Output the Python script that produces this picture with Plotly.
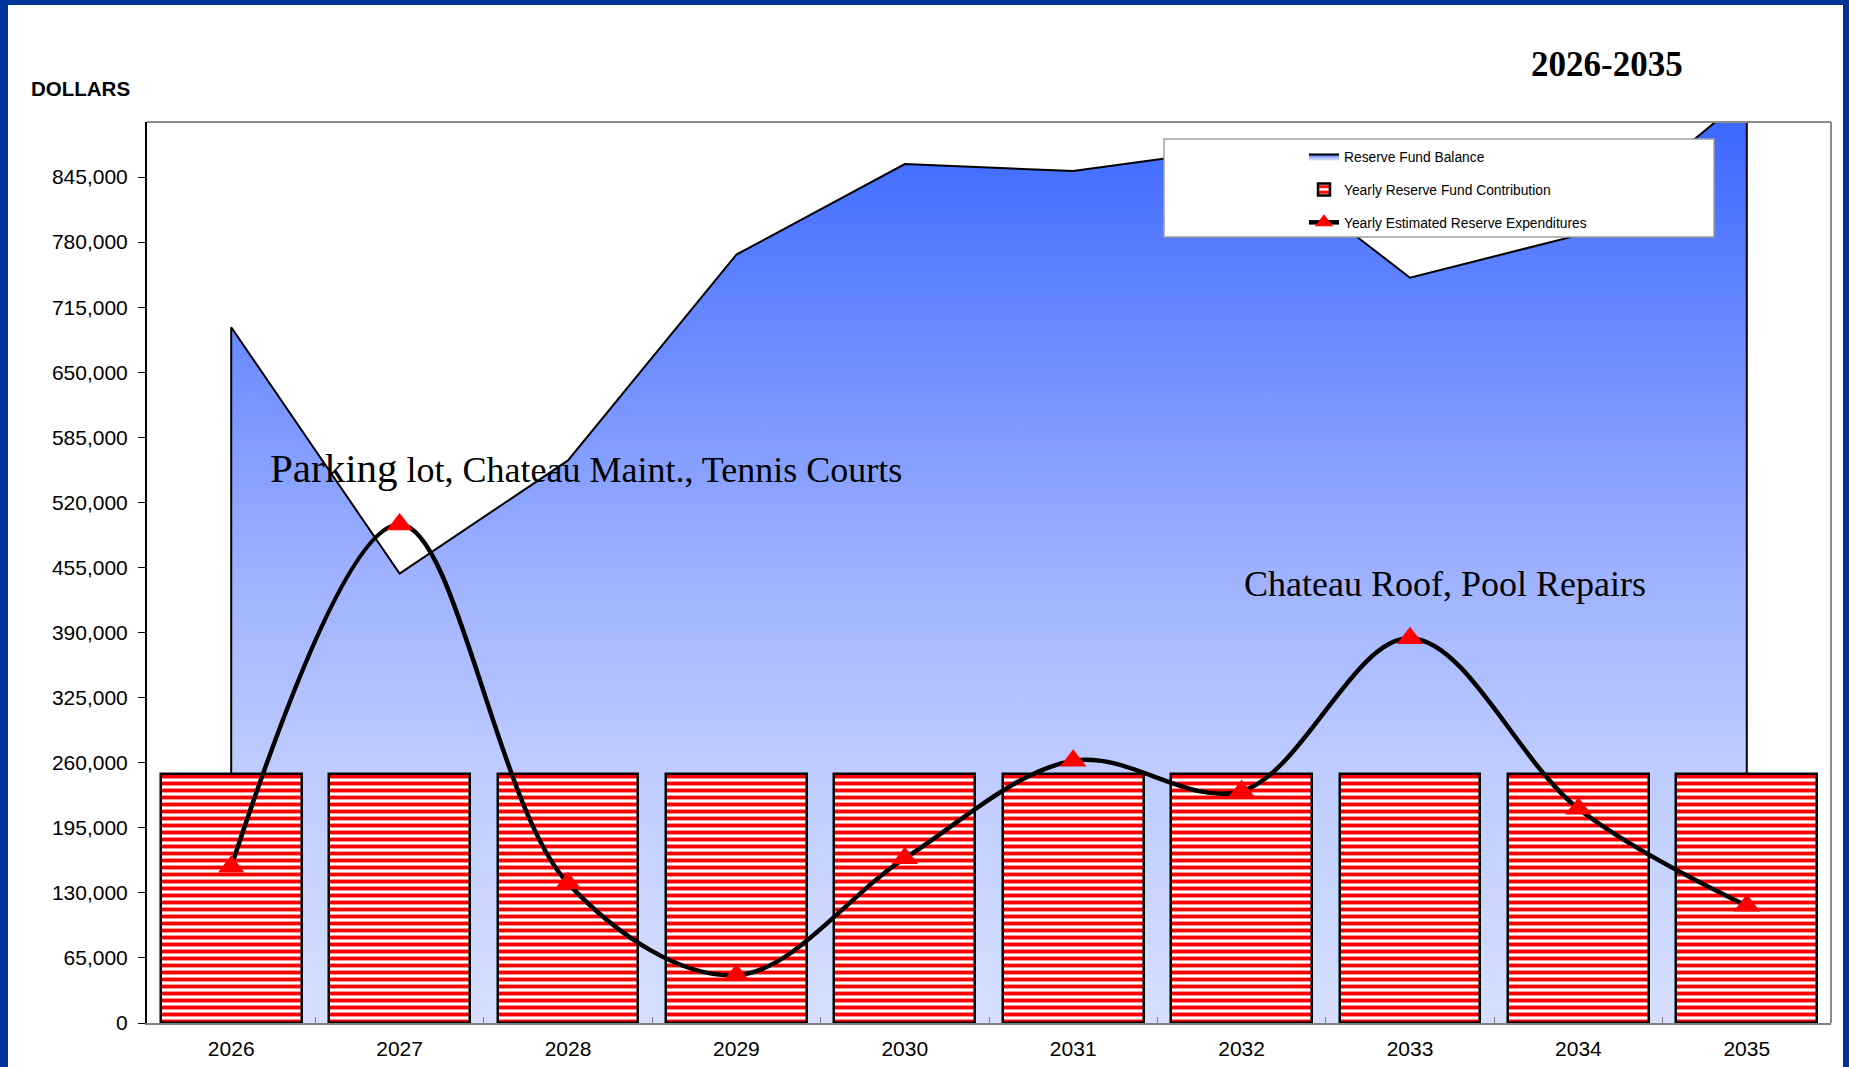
import plotly.graph_objects as go

# ---------------- data ----------------
years = [2026, 2027, 2028, 2029, 2030, 2031, 2032, 2033, 2034, 2035]
reserve_balance = [695000, 449000, 562000, 767500, 858000, 851000, 874000, 744500, 787000, 926000]
yearly_contribution = [248500, 248500, 248500, 248500, 248500, 248500, 248500, 248500, 248500, 248500]
yearly_expenditures = [156000, 498000, 139500, 47800, 164500, 262000, 231500, 384300, 214000, 117000]
y_tick_values = [0, 65000, 130000, 195000, 260000, 325000, 390000, 455000,
                 520000, 585000, 650000, 715000, 780000, 845000]
y_tick_labels = ["0", "65,000", "130,000", "195,000", "260,000", "325,000", "390,000",
                 "455,000", "520,000", "585,000", "650,000", "715,000", "780,000", "845,000"]
x_tick_labels = [str(y) for y in years]
y_max = 900000

# ---------------- geometry helpers (pixel -> paper) ----------------
FW, FH = 1849, 1067
L, R, T, B = 147, 1831, 122, 1023


def px(x):
    return (x - L) / (R - L)


def py(y):
    return (B - y) / (B - T)


fig = go.Figure()

# Reserve fund balance: area with vertical edges at both ends
area_x = [years[0]] + years + [years[-1]]
area_y = [0] + reserve_balance + [0]
fig.add_trace(go.Scatter(
    x=area_x, y=area_y, name="Reserve Fund Balance",
    mode="lines", line=dict(color="black", width=2),
    fill="toself", fillcolor="#8FA5FF",
    fillgradient=dict(
        type="vertical", start=0, stop=y_max,
        colorscale=[[0.0, "#D7E0FF"], [0.3, "#BCCAFF"], [0.5, "#9EB1FF"],
                    [0.75, "#6C8CFF"], [1.0, "#3D68FF"]],
    ),
    legendgroup="a", yaxis="y", hoverinfo="skip",
))

# Yearly contribution bars (striped)
fig.add_trace(go.Bar(
    x=years, y=yearly_contribution, name="Yearly Reserve Fund Contribution",
    width=0.835,
    marker=dict(
        color="white",
        line=dict(color="black", width=2.5),
        pattern=dict(shape="-", fgcolor="#FF0000", bgcolor="white",
                     size=7, solidity=0.55, fillmode="replace"),
    ),
    legendgroup="b", yaxis="y2",
))

# Yearly expenditures: smoothed line with triangles
fig.add_trace(go.Scatter(
    x=years, y=yearly_expenditures, name="Yearly Estimated Reserve Expenditures",
    mode="lines+markers",
    line=dict(color="black", width=4.5, shape="spline", smoothing=1.0),
    marker=dict(symbol="triangle-up", size=23, color="#FF0000", line=dict(width=0)),
    legendgroup="c", yaxis="y2",
))

axis_font = dict(family="Liberation Sans, Arial", size=21, color="black")
serif = "Liberation Serif, Times New Roman"

shapes = [
    # legend frame
    dict(type="rect", xref="paper", yref="paper",
         x0=px(1164), x1=px(1714), y0=py(139), y1=py(237),
         line=dict(color="#A0A0A0", width=1.5), fillcolor="white", layer="above"),
    # top & right plot border
    dict(type="line", xref="paper", yref="paper", x0=0, x1=1, y0=1, y1=1,
         line=dict(color="#8C8C8C", width=2), layer="above"),
    dict(type="line", xref="paper", yref="paper", x0=1, x1=1, y0=0, y1=1,
         line=dict(color="#8C8C8C", width=2), layer="above"),
    # blue page frame
    dict(type="rect", xref="paper", yref="paper", x0=px(0), x1=px(8), y0=py(FH), y1=py(0),
         line=dict(width=0), fillcolor="#003399", layer="above"),
    dict(type="rect", xref="paper", yref="paper", x0=px(0), x1=px(FW), y0=py(5), y1=py(0),
         line=dict(width=0), fillcolor="#003399", layer="above"),
    dict(type="rect", xref="paper", yref="paper", x0=px(1843), x1=px(FW), y0=py(FH), y1=py(0),
         line=dict(width=0), fillcolor="#003399", layer="above"),
]

annotations = [
    dict(text="<b>DOLLARS</b>", x=px(29), y=py(88), xref="paper", yref="paper",
         xanchor="left", yanchor="middle", showarrow=False,
         font=dict(family="Liberation Sans, Arial", size=20.5, color="black")),
    dict(text="<b>2026-2035</b>", x=px(1607), y=py(65), xref="paper", yref="paper",
         xanchor="center", yanchor="middle", showarrow=False,
         font=dict(family=serif, size=35, color="black")),
    dict(text="<span style='font-size:41px'>Parking</span> lot, Chateau Maint., Tennis Courts",
         x=px(268), y=py(468), xref="paper", yref="paper",
         xanchor="left", yanchor="middle", showarrow=False,
         font=dict(family=serif, size=36, color="black")),
    dict(text="Chateau Roof, Pool Repairs",
         x=px(1242), y=py(584), xref="paper", yref="paper",
         xanchor="left", yanchor="middle", showarrow=False,
         font=dict(family=serif, size=36, color="black")),
]

fig.update_layout(
    width=FW, height=FH,
    margin=dict(l=L, r=FW - R, t=T, b=FH - B, pad=0, autoexpand=False),
    paper_bgcolor="white", plot_bgcolor="white",
    showlegend=True,
    legend=dict(x=px(1304), y=py(141), xanchor="left", yanchor="top",
                bgcolor="rgba(0,0,0,0)", borderwidth=0,
                font=dict(family="Liberation Sans, Arial", size=13.8, color="black"),
                tracegroupgap=12, traceorder="grouped"),
    xaxis=dict(range=[years[0] - 0.5, years[-1] + 0.5], automargin=False,
               tickmode="array", tickvals=years, ticktext=x_tick_labels,
               ticks="", tickfont=axis_font, ticklabelstandoff=6,
               showgrid=False, zeroline=False,
               showline=True, linecolor="#808080", linewidth=2,
               minor=dict(tickmode="array", tickvals=[y + 0.5 for y in years[:-1]],
                          ticks="inside", ticklen=6, tickcolor="#808080", showgrid=False)),
    yaxis=dict(range=[0, y_max], automargin=False, tickmode="array", tickvals=y_tick_values,
               ticktext=y_tick_labels, ticks="outside", ticklen=7, tickcolor="black",
               tickfont=axis_font, ticklabelstandoff=6,
               showgrid=False, zeroline=False,
               showline=True, linecolor="black", linewidth=2),
    yaxis2=dict(range=[0, y_max], overlaying="y", visible=False, showgrid=False,
                automargin=False),
    shapes=shapes,
    annotations=annotations,
    bargap=0,
)

fig.write_html("out.html")
